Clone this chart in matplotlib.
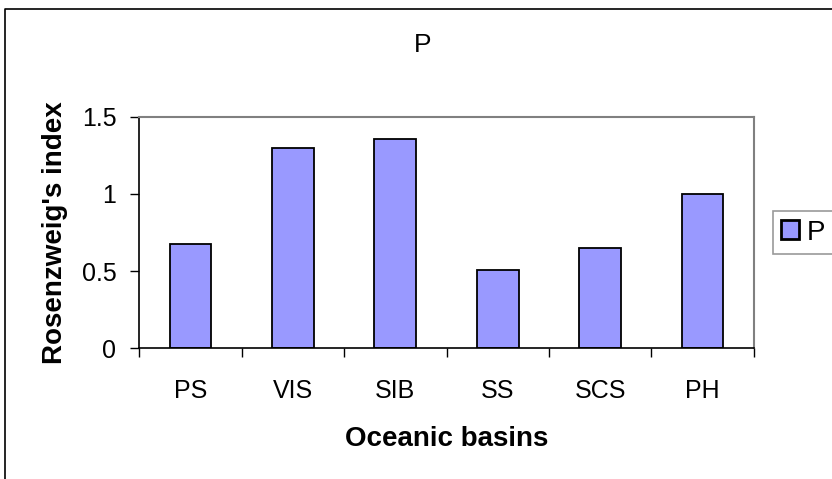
import matplotlib.pyplot as plt
from matplotlib.lines import Line2D

plt.rcParams['font.family'] = ['Liberation Sans', 'DejaVu Sans']

basins = ['PS', 'VIS', 'SIB', 'SS', 'SCS', 'PH']
p_index = [0.674, 1.30, 1.356, 0.505, 0.65, 1.0]

W, H = 832, 479
fig = plt.figure(figsize=(W / 100, H / 100), dpi=100)

# outer chart border: only the top and left edges fall inside the image
fig.lines.append(Line2D([5 / W, 5 / W, 1.1], [-0.1, 1 - 9 / H, 1 - 9 / H],
                        transform=fig.transFigure, color='black', lw=1.2))

left, right, top, bottom = 139.3, 753.7, 116.7, 348.3
ax = fig.add_axes([left / W, 1 - bottom / H, (right - left) / W, (bottom - top) / H])

x = range(len(basins))
ax.bar(x, p_index, width=0.41, color='#9999ff', edgecolor='black', lw=1.3, label='P')

ax.set_xlim(-0.5, len(basins) - 0.5)
ax.set_ylim(0, 1.5)
ax.set_yticks([0, 0.5, 1, 1.5])
ax.set_yticklabels(['0', '0.5', '1', '1.5'])
ax.set_xticks(list(x))
ax.set_xticklabels(basins)
ax.set_xticks([i - 0.5 for i in range(len(basins) + 1)], minor=True)
ax.tick_params(axis='x', which='major', length=0, pad=22, labelsize=18)
ax.tick_params(axis='x', which='minor', length=6.5, width=1, direction='out')
ax.tick_params(axis='y', length=6.5, width=1, direction='out', pad=10, labelsize=18)

for s in ['left', 'bottom']:
    ax.spines[s].set_color('black')
    ax.spines[s].set_linewidth(1.2)
for s in ['top', 'right']:
    ax.spines[s].set_color('#808080')
    ax.spines[s].set_linewidth(1.5)

ax.set_xlabel('Oceanic basins', fontsize=20, fontweight='bold', labelpad=17)
ax.set_ylabel("Rosenzweig's index", fontsize=20, fontweight='bold', labelpad=10)
fig.text(423 / W, 1 - 45 / H, 'P', fontsize=19, ha='center', va='center')

leg = ax.legend(loc='center left', bbox_to_anchor=((773 - left) / (right - left), 0.5),
                frameon=True, fancybox=False, edgecolor='#808080', fontsize=20,
                handlelength=0.65, handleheight=0.65, handletextpad=0.27,
                borderpad=0.3, borderaxespad=0)
leg.get_frame().set_linewidth(1.2)
for h in leg.legend_handles:
    h.set_linewidth(2)

fig.savefig('out.png', dpi=100)
